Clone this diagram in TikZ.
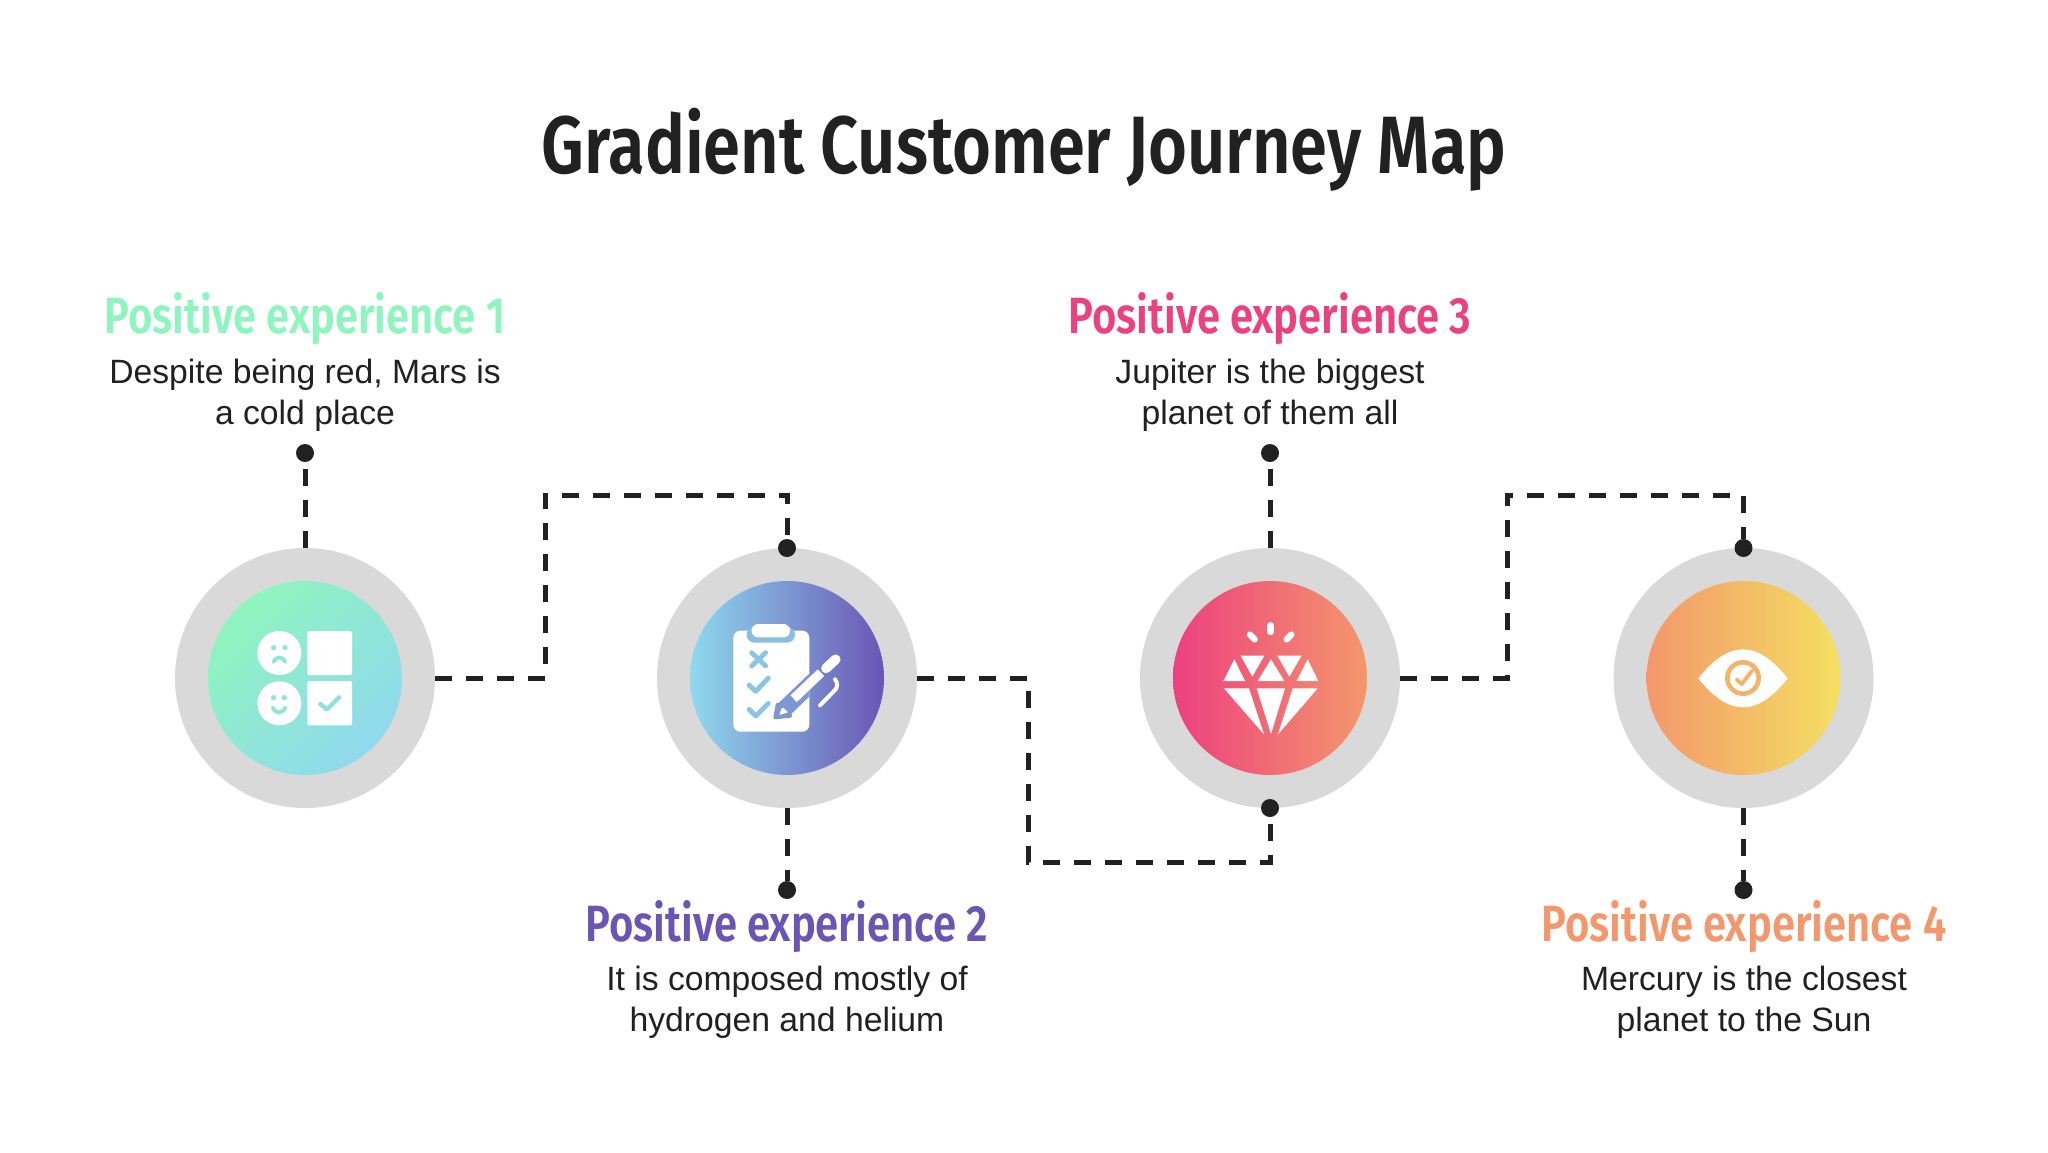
\documentclass[tikz,border=0pt]{standalone}
\usepackage{fontspec}
\setmainfont{Liberation Sans}
\newfontfamily\headfont[FakeStretch=0.82]{Fira Sans SemiBold}
\usetikzlibrary{calc}
\definecolor{ink}{HTML}{212121}
\definecolor{ring}{HTML}{D9D9D9}
\definecolor{cA}{HTML}{8FF5BE}
\definecolor{cAb}{HTML}{8FD9EE}
\definecolor{cB}{HTML}{6A55B5}
\definecolor{cC}{HTML}{EC407F}
\definecolor{cD}{HTML}{F4976C}
\definecolor{cE}{HTML}{F4E062}
\tikzset{
  outer/.style={circle,fill=ring,minimum size=130pt,inner sep=0pt},
  inner/.style={circle,minimum size=97pt,inner sep=0pt},
  dot/.style={circle,fill=ink,minimum size=9pt,inner sep=0pt},
  link/.style={draw=ink,line width=2.5pt,dash pattern=on 8.5pt off 7pt},
  title/.style={text=ink,font=\headfont\fontsize{40.7}{46}\selectfont},
  head/.style={font=\headfont\fontsize{25.5}{29}\selectfont},
  body/.style={text=ink,align=center,font=\fontsize{16.85}{20.5}\selectfont},
  icon/.style={x=0.16667pt,y=-0.16667pt},
}
\begin{document}
\begin{tikzpicture}[x=0.5pt,y=-0.5pt]
\useasboundingbox (0,0) rectangle (2048,1152);
\fill[white] (0,0) rectangle (2048,1152);
% title
\node[title] (ttl) at (1024,150) {Gradient Customer Journey Map};
% rings
\node[outer] (r1) at (305,678) {};
\node[outer] (r2) at (787,678) {};
\node[outer] (r3) at (1270,678) {};
\node[outer] (r4) at (1743.5,678) {};
% gradient discs
\node[inner,left color=cA,right color=cAb,shading angle=45] (d1) at (r1) {};
\node[inner,left color=cAb,right color=cB] (d2) at (r2) {};
\node[inner,left color=cC,right color=cD] (d3) at (r3) {};
\node[inner,left color=cD,right color=cE] (d4) at (r4) {};
% dots
\node[dot] (p1) at (305,453) {};
\node[dot] (p2) at (787,548) {};
\node[dot] (p3) at (787,890) {};
\node[dot] (p4) at (1270,453) {};
\node[dot] (p5) at (1270,808) {};
\node[dot] (p6) at (1743.5,548) {};
\node[dot] (p7) at (1743.5,890) {};
% bend points
\coordinate (b1) at (545.5,678);
\coordinate (b2) at (545.5,495);
\coordinate (b3) at (787,495);
\coordinate (b4) at (1028,678);
\coordinate (b5) at (1028,862);
\coordinate (b6) at (1270,862);
\coordinate (b7) at (1507,678);
\coordinate (b8) at (1507,495);
\coordinate (b9) at (1743.5,495);
% connectors
\draw[link] (r1.east) -- (b1) -- (b2) -- (b3) -- (p2);
\draw[link] (r2.east) -- (b4) -- (b5) -- (b6) -- (p5);
\draw[link] (r3.east) -- (b7) -- (b8) -- (b9) -- (p6);
\draw[link] (r1.north) -- (p1);
\draw[link] (r3.north) -- (p4);
\draw[link] (r2.south) -- (p3);
\draw[link] (r4.south) -- (p7);
% labels
\node[head,text=cA] (h1) at (305,319) {Positive experience 1};
\node[body] (t1) at (305,395.5) {Despite being red, Mars is\\a cold place};
\node[head,text=cB] (h2) at (787,926.5) {Positive experience 2};
\node[body] (t2) at (787,1002.5) {It is composed mostly of\\hydrogen and helium};
\node[head,text=cC] (h3) at (1270,319) {Positive experience 3};
\node[body] (t3) at (1270,395.5) {Jupiter is the biggest\\planet of them all};
\node[head,text=cD] (h4) at (1744,926.5) {Positive experience 4};
\node[body] (t4) at (1744,1002.5) {Mercury is the closest\\planet to the Sun};
% icon 1
\begin{scope}[shift={(230,600)},icon]
\fill[white] (148,159) circle[radius=66];
\fill[white] (148,310) circle[radius=66];
\fill[white,rounded corners=1pt] (232,93) rectangle (366,225);
\fill[white,rounded corners=1pt] (232,243) rectangle (366,376);
\fill[cA!55!cAb] (131,143) circle[radius=8];
\fill[cA!55!cAb] (165,143) circle[radius=8];
\draw[cA!55!cAb,line width=1.9pt,line cap=round] (130,186) .. controls (138,168) and (158,168) .. (166,186);
\fill[cA!45!cAb] (131,293) circle[radius=8];
\fill[cA!45!cAb] (163,293) circle[radius=8];
\draw[cA!45!cAb,line width=1.9pt,line cap=round] (128,322) .. controls (136,342) and (158,342) .. (166,322);
\draw[cA!25!cAb,line width=2.2pt,line cap=round,line join=round] (271,312) -- (291,328) -- (327,292);
\end{scope}
% icon 2
\begin{scope}[shift={(715,600)},icon]
\fill[white,rounded corners=3.5pt] (55,92) rectangle (283,395);
\fill[cAb!80!cB,rounded corners=4pt] (95,80) rectangle (240,128);
\fill[white,rounded corners=3.2pt] (110,72) rectangle (225,112);
\begin{scope}[cAb!85!cB,line width=2.4pt,line cap=round,line join=round]
\draw (110,158) -- (152,198);
\draw (152,158) -- (110,198);
\draw (102,255) -- (122,274) -- (160,234);
\draw (102,328) -- (122,348) -- (160,310);
\end{scope}
\begin{scope}
\clip (55,92) rectangle (283,395);
\draw[cAb!50!cB,line width=8.3pt] (205,330) -- (332,208);
\end{scope}
\filldraw[cAb!50!cB,line width=2pt,line join=round] (181,352) -- (188,314) -- (226,347) -- cycle;
\fill[white,rounded corners=0.6pt] (192,345) -- (202,321) -- (220,337) -- cycle;
\draw[white,line width=4.6pt] (236,296) -- (318,218);
\draw[white,line width=4.9pt,line cap=round] (333,205) -- (362,178);
\draw[white,line width=2pt,line cap=round,line join=round] (315,316) -- (362,268) .. controls (368,258) and (368,248) .. (360,238);
\end{scope}
% icon 3
\begin{scope}[shift={(1195,610)},icon]
\draw[white,line width=3.2pt,line cap=round] (227,46) -- (227,66);
\draw[white,line width=3.2pt,line cap=round] (165,74) -- (179,88);
\draw[white,line width=3.2pt,line cap=round] (289,74) -- (275,88);
\fill[white] (85,213) -- (150,213) -- (118,148) -- cycle;
\fill[white] (137,137) -- (208,137) -- (172,200) -- cycle;
\fill[white] (228,148) -- (268,213) -- (188,213) -- cycle;
\fill[white] (247,137) -- (320,137) -- (283,200) -- cycle;
\fill[white] (338,148) -- (370,213) -- (305,213) -- cycle;
\fill[white] (87,235) -- (162,235) -- (207,373) -- cycle;
\fill[white] (185,235) -- (270,235) -- (228,372) -- cycle;
\fill[white] (293,235) -- (368,235) -- (249,373) -- cycle;
\end{scope}
% icon 4
\begin{scope}[shift={(1670,620)},icon]
\fill[white] (85,175) .. controls (130,118) and (175,88) .. (219,88)
  .. controls (263,88) and (308,118) .. (353,175)
  .. controls (308,232) and (263,262) .. (219,262)
  .. controls (175,262) and (130,232) .. (85,175) -- cycle;
\draw[cD!60!cE,line width=2.3pt] (219,174) circle[radius=47];
\draw[cD!60!cE,line width=1.9pt,line cap=round,line join=round] (200,178) -- (215,192) -- (246,152);
\end{scope}
\end{tikzpicture}
\end{document}
